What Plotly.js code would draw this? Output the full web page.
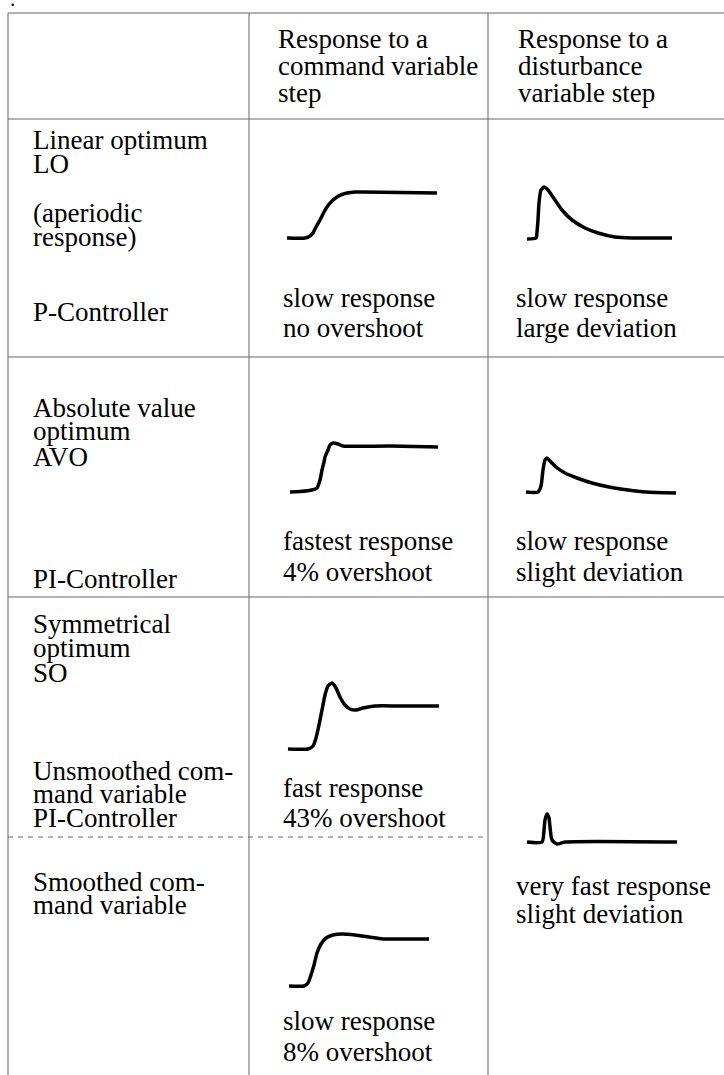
<!DOCTYPE html>
<html>
<head>
<meta charset="utf-8">
<script src="https://cdn.plot.ly/plotly-3.0.1.min.js"></script>
<style>html,body{margin:0;padding:0;background:#fff;}#chart{width:724px;height:1075px;}</style>
</head>
<body>
<div id="chart"></div>
<script>
// ---------- DATA ----------
const headerCmd = ["Response to a", "command variable", "step"];
const headerDist = ["Response to a", "disturbance", "variable step"];
const methodLabels = [
  ["Linear optimum", "LO", "(aperiodic", "response)", "P-Controller"],
  ["Absolute value", "optimum", "AVO", "PI-Controller"],
  ["Symmetrical", "optimum", "SO", "Unsmoothed com-", "mand variable", "PI-Controller"],
  ["Smoothed com-", "mand variable"]
];
const commandNotes = [
  ["slow response", "no overshoot"],
  ["fastest response", "4% overshoot"],
  ["fast response", "43% overshoot"],
  ["slow response", "8% overshoot"]
];
const disturbanceNotes = [
  ["slow response", "large deviation"],
  ["slow response", "slight deviation"],
  ["very fast response", "slight deviation"]
];

// response curves (time, value), read from the sketches
const loCmdT = [0, 18, 23, 26, 29, 33, 37, 40, 45, 50, 55, 60, 68, 76, 113, 150];
const loCmdV = [0, 0, 2, 5, 11, 18, 26, 31, 37, 41, 43.5, 45, 46, 46, 45.5, 45];
const loDistT = [0, 9, 10, 11, 12, 14, 17, 21, 28, 35, 45, 58, 71, 88, 105, 145];
const loDistV = [-1, 0, 6, 18, 35, 48, 51, 48, 38, 28, 18, 10, 5, 1, 0, 0];
const avoCmdT = [0, 10, 22, 27, 30, 32, 34, 35, 38, 40, 43, 48, 53, 100, 148];
const avoCmdV = [0, 0.5, 2, 4, 12, 22, 30, 35, 42, 47, 49, 48, 46, 46, 45];
const avoDistT = [0, 12, 15, 17, 19, 21, 24, 30, 39, 51, 66, 83, 102, 120, 150];
const avoDistV = [0, 0, 6, 22, 32, 34, 31, 25, 19, 14, 9, 5, 2, 0, -1];
const soCmdT = [0, 20, 25, 28, 31, 34, 37, 40, 44, 48, 52, 57, 62, 68, 75, 87, 112, 151];
const soCmdV = [0, 0, 3, 11, 24, 39, 54, 63, 66, 61, 52, 44, 40, 39, 41, 43, 43, 43];
const soSmoothT = [0, 15, 19, 22, 25, 28, 32, 37, 44, 53, 66, 80, 94, 116, 140];
const soSmoothV = [0, 0, 3, 11, 21, 33, 42, 48, 51, 52, 51, 49, 47, 47, 47];
const soDistT = [0, 15, 17, 18, 20, 22, 23, 25, 30, 38, 150];
const soDistV = [0, 0, 12, 22, 28, 24, 15, 2, -2, 0, 0];

// ---------- LAYOUT ----------
const W = 724, H = 1075;
const px = x => x / W;
const py = y => 1 - y / H;

const FONT = {family: "Liberation Serif", size: 27, color: "#000"};
const annotations = [];
function addText(txt, x, baseline) {
  annotations.push({
    text: txt, xref: "paper", yref: "paper", x: px(x), y: py(baseline - 9),
    xanchor: "left", yanchor: "middle", showarrow: false, font: FONT,
    borderpad: 0
  });
}
const headerBase = [48, 75, 102];
headerCmd.forEach((t, i) => addText(t, 277, headerBase[i]));
headerDist.forEach((t, i) => addText(t, 517, headerBase[i]));
const methodBase = [[149, 173, 222, 246, 321], [417, 440, 466, 588], [633, 657, 682, 780, 803, 827], [891, 914]];
methodLabels.forEach((g, i) => g.forEach((t, j) => addText(t, 32, methodBase[i][j])));
const cmdBase = [[307, 337], [550, 581], [797, 827], [1030, 1061]];
commandNotes.forEach((g, i) => g.forEach((t, j) => addText(t, 282, cmdBase[i][j])));
const distBase = [[307, 337], [550, 581], [895, 923]];
disturbanceNotes.forEach((g, i) => g.forEach((t, j) => addText(t, 515, distBase[i][j])));

// table lines
const LC = "#666";
const shapes = [];
function hline(y, x0, x1, dash) {
  shapes.push({type: "line", xref: "paper", yref: "paper", x0: px(x0), x1: px(x1), y0: py(y), y1: py(y),
    line: {color: LC, width: 1, dash: dash || "solid"}});
}
function vline(x, y0, y1) {
  shapes.push({type: "line", xref: "paper", yref: "paper", x0: px(x), x1: px(x), y0: py(y0), y1: py(y1),
    line: {color: LC, width: 1}});
}
hline(13, 8, W); hline(119, 8, W); hline(357, 8, W); hline(597, 8, W);
hline(837, 8, 488, "5px,5px");
vline(8, 13, H); vline(249, 13, H); vline(488, 13, H);
shapes.push({type: "circle", xref: "paper", yref: "paper", x0: px(11.5), x1: px(14), y0: py(6), y1: py(3.5),
  fillcolor: "#000", line: {width: 0}});

// curve subplots: origin pixel positions
const curves = [
  {t: loCmdT, v: loCmdV, x0: 287, y0: 238},
  {t: loDistT, v: loDistV, x0: 527, y0: 238},
  {t: avoCmdT, v: avoCmdV, x0: 290, y0: 492},
  {t: avoDistT, v: avoDistV, x0: 526, y0: 492},
  {t: soCmdT, v: soCmdV, x0: 288, y0: 749},
  {t: soSmoothT, v: soSmoothV, x0: 289, y0: 986},
  {t: soDistT, v: soDistV, x0: 527, y0: 842}
];
const traces = [];
const layout = {
  width: W, height: H, margin: {l: 0, r: 0, t: 0, b: 0},
  paper_bgcolor: "#fff", plot_bgcolor: "rgba(0,0,0,0)", showlegend: false,
  annotations: annotations, shapes: shapes
};
curves.forEach((c, i) => {
  const n = i === 0 ? "" : String(i + 1);
  traces.push({
    type: "scatter", mode: "lines", x: c.t, y: c.v,
    xaxis: "x" + n, yaxis: "y" + n, cliponaxis: false, hoverinfo: "skip",
    line: {color: "#000", width: 3.5, shape: "spline", smoothing: 0.6}
  });
  const ax = {visible: false, fixedrange: true, range: [-5, 160], domain: [px(c.x0 - 5), px(c.x0 + 160)], anchor: "y" + n};
  const ay = {visible: false, fixedrange: true, range: [-15, 70], domain: [py(c.y0 + 15), py(c.y0 - 70)], anchor: "x" + n};
  layout["xaxis" + n] = ax;
  layout["yaxis" + n] = ay;
});

Plotly.newPlot("chart", traces, layout, {staticPlot: true, displayModeBar: false});
</script>
</body>
</html>
